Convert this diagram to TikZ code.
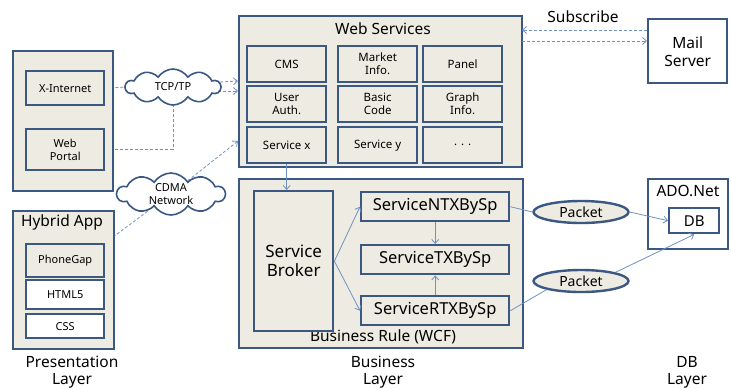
\documentclass[tikz,border=0pt]{standalone}
\usepackage{fontspec}
\setmainfont{Noto Sans}
\usetikzlibrary{shapes.symbols,shapes.geometric,arrows.meta,backgrounds}
\definecolor{edge}{RGB}{58,88,130}
\definecolor{paper}{RGB}{238,236,226}
\definecolor{link}{RGB}{110,145,195}
\begin{document}
\begin{tikzpicture}[x=1pt, y=-1pt,
    box/.style={draw=edge, line width=2.4pt, fill=paper, anchor=north west, inner sep=0pt, align=center, font=\fontsize{11.5}{13}\selectfont},
    presbox/.style={box, font=\fontsize{11}{13}\selectfont},
    spbox/.style={box, minimum width=148pt, minimum height=29pt, font=\fontsize{16.5}{18}\selectfont},
    puff/.style={cloud, draw=edge, line width=1.6pt, fill=white, cloud puffs=10, cloud puff arc=115, aspect=2.6, inner sep=0pt, align=center, font=\fontsize{11}{12.5}\selectfont},
    pkt/.style={ellipse, draw=edge, line width=2.4pt, fill=paper, minimum width=95pt, minimum height=22pt, inner sep=0pt, font=\fontsize{14}{15}\selectfont},
    title/.style={font=\fontsize{15.5}{18}\selectfont},
    layer/.style={align=center, font=\fontsize{15.5}{17}\selectfont},
    arr/.style={-{Straight Barb[length=4pt, width=7pt]}, link, line width=0.8pt},
    dasharr/.style={arr, dash pattern=on 3pt off 2pt}]
    \useasboundingbox (0,0) rectangle (731,389);

    % Presentation layer
    \node[box, minimum width=100pt, minimum height=140pt] (pres) at (12,50) {};
    \node[presbox, minimum width=78pt, minimum height=34pt] (xi) at (25,70) {X-Internet};
    \node[presbox, minimum width=78pt, minimum height=41pt] (wp) at (25,128) {Web\\Portal};
    \node[box, minimum width=101pt, minimum height=138pt] (hyb) at (12,210) {};
    \node[title] (hybt) at (62,222) {Hybrid App};
    \node[presbox, minimum width=78pt, minimum height=33pt] (pg) at (25,243) {PhoneGap};
    \node[presbox, fill=white, minimum width=78pt, minimum height=29pt] (html) at (25,279) {HTML5};
    \node[presbox, fill=white, minimum width=78pt, minimum height=24pt] (css) at (25,313) {CSS};

    % Web services
    \node[box, minimum width=283pt, minimum height=151pt] (web) at (238,15) {};
    \node[title] (webt) at (383,29) {Web Services};
    \foreach \n/\x/\y/\t in {cms/246/45/CMS, mkt/337/45/{Market\\Info.}, pnl/422/45/Panel,
        usr/246/85/{User\\Auth.}, bas/337/85/{Basic\\Code}, grp/422/85/{Graph\\Info.},
        svx/246/126/Service x, svy/337/126/Service y, dots/422/126/{. . .}} {
        \node[box, minimum width=79pt, minimum height=36pt] (\n) at (\x,\y) {\t};
    }

    % Business rule
    \node[box, minimum width=284pt, minimum height=169pt] (biz) at (238,178) {};
    \node[title] (bizt) at (383,337) {Business Rule (WCF)};
    \node[box, minimum width=79pt, minimum height=140pt, font=\fontsize{17}{19}\selectfont] (broker) at (253,190) {Service\\Broker};
    \node[spbox] (ntx) at (360,191) {ServiceNTXBySp};
    \node[spbox] (tx) at (360,244) {ServiceTXBySp};
    \node[spbox] (rtx) at (360,295) {ServiceRTXBySp};

    % Mail server and DB
    \node[box, fill=white, minimum width=79pt, minimum height=64pt, font=\fontsize{15.5}{18}\selectfont] (mail) at (647,18) {Mail\\Server};
    \node[box, fill=white, minimum width=80pt, minimum height=70pt] (ado) at (647,178) {};
    \node[title] (adot) at (688,191) {ADO.Net};
    \node[box, fill=white, minimum width=50pt, minimum height=25pt, font=\fontsize{15}{16}\selectfont] (db) at (668,207) {DB};

    % Clouds and packets
    \node[puff, minimum width=95pt, minimum height=36pt] (tcp) at (173,87) {TCP/TP};
    \node[puff, minimum width=108pt, minimum height=42pt] (cdma) at (171,194) {CDMA\\Network};
    \node[pkt] (pk1) at (581,212) {Packet};
    \node[pkt] (pk2) at (581,281) {Packet};

    % Layer names
    \node[layer] (lp) at (72,372) {Presentation\\Layer};
    \node[layer] (lb) at (383,372) {Business\\Layer};
    \node[layer] (ld) at (687,372) {DB\\Layer};
    \node[title] (subs) at (583,17) {Subscribe};

    % Network links
    \coordinate (wsin1) at (238,81);
    \coordinate (wsin2) at (238,91);
    \coordinate (wsin3) at (238,141);
    \coordinate (hybout) at (113,237);
    \coordinate (suba) at (522,30);
    \coordinate (subb) at (522,41);
    \begin{scope}[on background layer]
        \draw[dasharr] (xi.east) -- (wsin1);
        \draw[dasharr] (tcp |- wsin2) -- (wsin2);
        \draw[dasharr, -] (wp.east) -| (tcp);
        \draw[dasharr, -] (hybout) -- (cdma);
        \draw[dasharr] (cdma) -- (wsin3);
    \end{scope}
    \draw[dasharr] (mail.west |- suba) -- (suba);
    \draw[dasharr] (subb) -- (mail.west |- subb);

    % Service calls
    \draw[arr] (svx.south) -- (svx.south |- broker.north);
    \draw[arr] (broker.east) -- (ntx.west);
    \draw[arr] (broker.east) -- (rtx.west);
    \draw[arr] (ntx.south) -- (tx.north);
    \draw[arr] (rtx.north) -- (tx.south);
    \draw[link, line width=0.8pt] (ntx.east) -- (pk1.west);
    \draw[arr] (pk1.east) -- (db.west);
    \draw[link, line width=0.8pt] (rtx.east) -- (pk2.south west);
    \draw[arr] (pk2.north east) -- (db.south);
\end{tikzpicture}
\end{document}
